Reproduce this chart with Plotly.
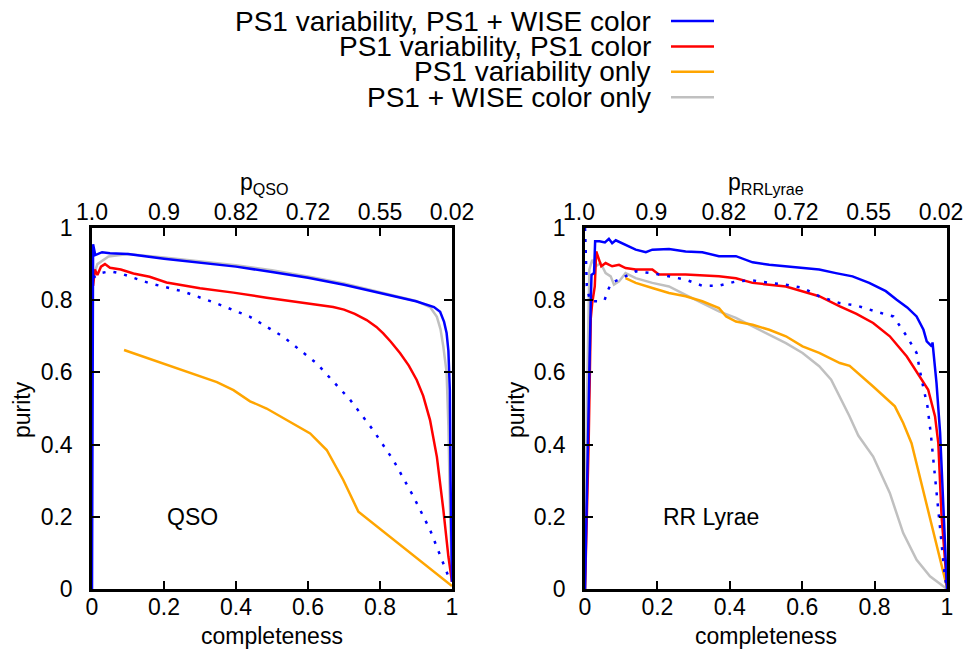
import plotly.graph_objects as go

# ---- data (completeness, purity) ----
# QSO panel
qso_blue_x = [0.0, 0.002, 0.003, 0.009, 0.028, 0.05, 0.1, 0.2, 0.3, 0.4, 0.5, 0.6, 0.7, 0.8, 0.9, 0.95, 0.967, 0.978, 0.985, 0.99, 0.994, 0.996, 1.0]
qso_blue_y = [0.0, 0.86, 0.955, 0.925, 0.933, 0.93, 0.928, 0.915, 0.905, 0.893, 0.878, 0.862, 0.843, 0.82, 0.797, 0.781, 0.768, 0.74, 0.709, 0.66, 0.55, 0.3, 0.02]
qso_red_x = [0.003, 0.008, 0.015, 0.025, 0.036, 0.05, 0.08, 0.115, 0.16, 0.207, 0.3, 0.393, 0.485, 0.578, 0.63, 0.67, 0.7, 0.73, 0.763, 0.79, 0.809, 0.83, 0.856, 0.88, 0.902, 0.92, 0.939, 0.958, 0.976, 0.99, 1.0]
qso_red_y = [0.84, 0.885, 0.87, 0.893, 0.9, 0.89, 0.885, 0.874, 0.865, 0.849, 0.833, 0.821, 0.807, 0.793, 0.787, 0.781, 0.774, 0.762, 0.745, 0.726, 0.708, 0.685, 0.653, 0.619, 0.579, 0.535, 0.468, 0.366, 0.219, 0.09, 0.02]
qso_orange_x = [0.089, 0.13, 0.207, 0.3, 0.347, 0.393, 0.439, 0.485, 0.559, 0.606, 0.652, 0.698, 0.74, 1.0]
qso_orange_y = [0.662, 0.648, 0.62, 0.59, 0.573, 0.551, 0.52, 0.5, 0.459, 0.431, 0.385, 0.302, 0.214, 0.008]
qso_gray_x = [0.005, 0.015, 0.046, 0.1, 0.2, 0.3, 0.4, 0.5, 0.6, 0.7, 0.8, 0.9, 0.94, 0.958, 0.968, 0.976, 0.985, 0.99, 0.995, 1.0]
qso_gray_y = [0.87, 0.9, 0.921, 0.928, 0.918, 0.908, 0.897, 0.883, 0.866, 0.846, 0.823, 0.798, 0.78, 0.754, 0.72, 0.671, 0.6, 0.45, 0.2, 0.02]
qso_dot_x = [0.003, 0.022, 0.05, 0.08, 0.16, 0.254, 0.346, 0.439, 0.531, 0.624, 0.717, 0.781, 0.837, 0.893, 0.939, 0.976, 0.994]
qso_dot_y = [0.862, 0.875, 0.88, 0.874, 0.847, 0.824, 0.791, 0.754, 0.699, 0.625, 0.524, 0.44, 0.357, 0.256, 0.164, 0.071, 0.025]

# RR Lyrae panel
rr_blue_x = [0.0, 0.005, 0.012, 0.016, 0.018, 0.025, 0.028, 0.04, 0.055, 0.066, 0.075, 0.085, 0.112, 0.14, 0.168, 0.186, 0.232, 0.278, 0.324, 0.37, 0.417, 0.463, 0.509, 0.555, 0.601, 0.647, 0.693, 0.739, 0.785, 0.831, 0.861, 0.89, 0.916, 0.935, 0.944, 0.958, 0.96, 0.971, 0.981, 0.99, 0.997, 1.0]
rr_blue_y = [0.0, 0.3, 0.6, 0.8, 0.87, 0.875, 0.963, 0.963, 0.96, 0.97, 0.958, 0.966, 0.954, 0.94, 0.933, 0.94, 0.942, 0.935, 0.933, 0.922, 0.922, 0.905, 0.898, 0.894, 0.889, 0.885, 0.875, 0.866, 0.848, 0.825, 0.801, 0.78, 0.755, 0.718, 0.686, 0.672, 0.683, 0.571, 0.432, 0.247, 0.063, 0.0]
rr_red_x = [0.0, 0.01, 0.016, 0.02, 0.027, 0.031, 0.045, 0.057, 0.075, 0.094, 0.112, 0.14, 0.186, 0.204, 0.278, 0.37, 0.417, 0.463, 0.555, 0.601, 0.647, 0.704, 0.75, 0.796, 0.842, 0.889, 0.925, 0.948, 0.967, 0.976, 0.985, 1.0]
rr_red_y = [0.0, 0.4, 0.75, 0.793, 0.838, 0.935, 0.894, 0.903, 0.894, 0.898, 0.889, 0.885, 0.885, 0.871, 0.871, 0.866, 0.861, 0.848, 0.838, 0.825, 0.811, 0.783, 0.762, 0.737, 0.7, 0.644, 0.589, 0.552, 0.478, 0.404, 0.201, 0.01]
rr_orange_x = [0.112, 0.14, 0.186, 0.232, 0.278, 0.324, 0.37, 0.39, 0.417, 0.463, 0.509, 0.555, 0.601, 0.647, 0.704, 0.731, 0.796, 0.856, 0.879, 0.902, 1.0]
rr_orange_y = [0.861, 0.848, 0.834, 0.82, 0.811, 0.797, 0.778, 0.755, 0.741, 0.732, 0.718, 0.7, 0.672, 0.654, 0.626, 0.618, 0.561, 0.506, 0.46, 0.404, 0.005]
rr_gray_x = [0.0, 0.005, 0.012, 0.02, 0.03, 0.043, 0.057, 0.071, 0.08, 0.094, 0.112, 0.14, 0.186, 0.232, 0.278, 0.324, 0.37, 0.417, 0.463, 0.509, 0.555, 0.601, 0.647, 0.68, 0.704, 0.73, 0.755, 0.796, 0.842, 0.879, 0.916, 0.953, 1.0]
rr_gray_y = [0.0, 0.5, 0.885, 0.912, 0.894, 0.903, 0.875, 0.866, 0.843, 0.852, 0.875, 0.861, 0.848, 0.838, 0.815, 0.792, 0.769, 0.751, 0.728, 0.705, 0.681, 0.654, 0.617, 0.58, 0.534, 0.48, 0.425, 0.367, 0.266, 0.155, 0.081, 0.035, 0.0]
rr_dot_x = [0.0, 0.003, 0.005, 0.013, 0.025, 0.041, 0.054, 0.064, 0.073, 0.091, 0.112, 0.14, 0.186, 0.232, 0.278, 0.324, 0.37, 0.417, 0.463, 0.509, 0.555, 0.601, 0.647, 0.704, 0.75, 0.833, 0.852, 0.889, 0.916, 0.93, 0.946, 0.955, 0.964, 0.973, 0.985, 0.994, 1.0]
rr_dot_y = [1.0, 0.93, 0.84, 0.8, 0.797, 0.797, 0.8, 0.829, 0.848, 0.856, 0.866, 0.88, 0.875, 0.866, 0.857, 0.84, 0.84, 0.852, 0.855, 0.848, 0.843, 0.834, 0.811, 0.792, 0.785, 0.76, 0.755, 0.7, 0.654, 0.58, 0.506, 0.432, 0.34, 0.229, 0.109, 0.035, 0.0]

top_ticks = ['1.0', '0.9', '0.82', '0.72', '0.55', '0.02']
legend_names = ['PS1 variability, PS1 + WISE color', 'PS1 variability, PS1 color',
                'PS1 variability only', 'PS1 + WISE color only']
legend_colors = ['#0000ff', '#ff0000', '#ffa500', '#c0c0c0']

FONT = 'Liberation Sans, Arial, Helvetica, sans-serif'
LW = 2.5
# the page puts an 8px body margin around the figure, so work in page pixels minus that
OFF = 8
W, H = 972 - OFF, 654 - OFF


def px(x):
    return (x - OFF) / W


def py(y):
    return 1 - (y - OFF) / H


fig = go.Figure()


def add_panel(xa, ya, series):
    for x, y, color, dash in series:
        fig.add_trace(go.Scatter(x=x, y=y, mode='lines', xaxis=xa, yaxis=ya,
                                 line=dict(color=color, width=LW, dash=dash),
                                 showlegend=False, hoverinfo='skip'))


add_panel('x', 'y', [
    (qso_gray_x, qso_gray_y, legend_colors[3], 'solid'),
    (qso_orange_x, qso_orange_y, legend_colors[2], 'solid'),
    (qso_red_x, qso_red_y, legend_colors[1], 'solid'),
    (qso_dot_x, qso_dot_y, legend_colors[0], '3px,8px'),
    (qso_blue_x, qso_blue_y, legend_colors[0], 'solid'),
])
add_panel('x2', 'y2', [
    (rr_gray_x, rr_gray_y, legend_colors[3], 'solid'),
    (rr_orange_x, rr_orange_y, legend_colors[2], 'solid'),
    (rr_red_x, rr_red_y, legend_colors[1], 'solid'),
    (rr_dot_x, rr_dot_y, legend_colors[0], '3px,8px'),
    (rr_blue_x, rr_blue_y, legend_colors[0], 'solid'),
])
# empty traces so the top (probability) axes get drawn
fig.add_trace(go.Scatter(x=[], y=[], xaxis='x3', yaxis='y', showlegend=False))
fig.add_trace(go.Scatter(x=[], y=[], xaxis='x4', yaxis='y2', showlegend=False))

tick_font = dict(family=FONT, size=23, color='black')
title_font = dict(family=FONT, size=23, color='black')
ticks01 = [0, 0.2, 0.4, 0.6, 0.8, 1]
ticktext01 = ['0', '0.2', '0.4', '0.6', '0.8', '1']

frame = dict(range=[0, 1], tickvals=ticks01, ticktext=ticktext01, ticks='inside', ticklen=8, tickwidth=2,
             tickcolor='black', showline=True, linewidth=2.5, linecolor='black', mirror='ticks',
             showgrid=False, zeroline=False, tickfont=tick_font, automargin=False)
top = dict(range=[0, 1], tickvals=ticks01, ticktext=top_ticks, side='top', ticks='', showline=False,
           showgrid=False, zeroline=False, tickfont=tick_font, automargin=False, ticklabelstandoff=2)

ydom = [py(589), py(228)]
fig.update_layout(
    width=W, height=H, margin=dict(l=0, r=0, t=0, b=0),
    plot_bgcolor='white', paper_bgcolor='white', showlegend=False,
    xaxis=dict(frame, domain=[px(92), px(452)], anchor='y', ticklabelstandoff=-4),
    yaxis=dict(frame, domain=ydom, anchor='x', ticklabelstandoff=12),
    xaxis2=dict(frame, domain=[px(585), px(947)], anchor='y2', ticklabelstandoff=-4),
    yaxis2=dict(frame, domain=ydom, anchor='x2', ticklabelstandoff=12),
    xaxis3=dict(top, overlaying='x', anchor='y'),
    # nudge the right-hand top labels so "0.02" stays inside the window
    xaxis4=dict(top, overlaying='x2', anchor='y2', ticklabelshift=-6, ticklabeloverflow='allow'),
)

# axis titles
for xd, ytitle_x, ptitle, p_x in [('x', 22, 'p<sub>QSO</sub>', 0.48), ('x2', 516, 'p<sub>RRLyrae</sub>', 0.5)]:
    fig.add_annotation(x=0.5, y=py(636), xref=xd + ' domain', yref='paper', text='completeness',
                       showarrow=False, yanchor='middle', font=title_font)
    fig.add_annotation(x=px(ytitle_x), y=py(410), xref='paper', yref='paper', text='purity',
                       showarrow=False, textangle=-90, xanchor='center', yanchor='middle', font=title_font)
    fig.add_annotation(x=p_x, y=py(183), xref=xd + ' domain', yref='paper', text=ptitle,
                       showarrow=False, yanchor='middle', font=title_font)

# panel labels
fig.add_annotation(x=0.278, y=0.2, xref='x', yref='y', text='QSO', showarrow=False, font=title_font)
fig.add_annotation(x=0.348, y=0.2, xref='x2', yref='y2', text='RR Lyrae', showarrow=False, font=title_font)

# legend: right-aligned text with the line sample on its right
for i, (name, color) in enumerate(zip(legend_names, legend_colors)):
    yrow = py(21 + 25.4 * i)
    fig.add_annotation(x=px(653), y=yrow, xref='paper', yref='paper', text=name, showarrow=False,
                       xanchor='right', yanchor='middle', font=dict(family=FONT, size=28, color='black'))
    fig.add_shape(type='line', xref='paper', yref='paper', x0=px(671), x1=px(714), y0=yrow, y1=yrow,
                  line=dict(color=color, width=LW))

fig.write_html('out.html')
